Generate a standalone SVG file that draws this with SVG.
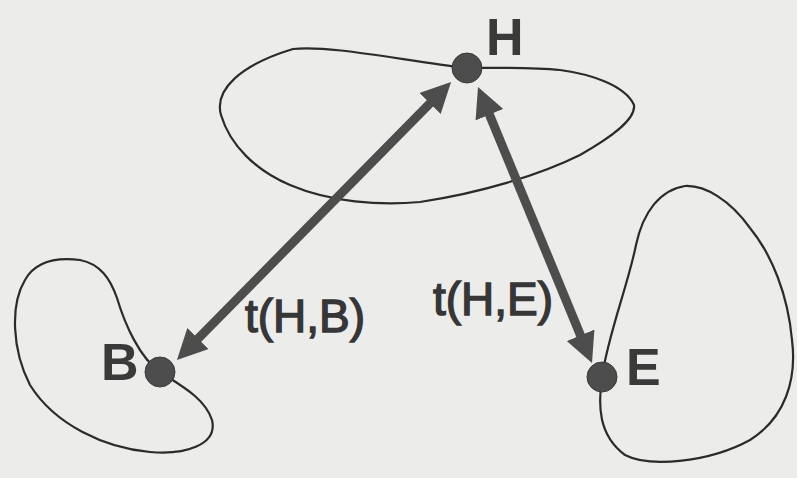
<svg xmlns="http://www.w3.org/2000/svg" width="797" height="478" viewBox="0 0 797 478">
<defs>
<style>
.blob{fill:none;stroke:#2b2b2b;stroke-width:2.2;stroke-linejoin:round}
.dot{fill:#4d4d4d;stroke:#3a3a3a;stroke-width:1}
.lbl{font-family:"Liberation Sans",Arial,sans-serif;font-weight:bold;font-size:52px;fill:#3a3a3a}
.tl{font-family:"Liberation Sans",Arial,sans-serif;font-size:46px;fill:#363636;stroke:#363636;stroke-width:1.4}
.arr{stroke:#4d4d4d;stroke-width:9;fill:none;marker-start:url(#ah);marker-end:url(#ah)}
</style>
<marker id="ah" markerUnits="userSpaceOnUse" markerWidth="30" markerHeight="30" viewBox="0 0 30 30" refX="8" refY="15" orient="auto-start-reverse">
<path d="M0,0 L30,15 L0,30 z" fill="#4d4d4d"/>
</marker>
</defs>
<rect width="797" height="478" fill="#ececea"/>
<g id="node-H">
<path class="blob" d="M467,68 C500,68 530,67 560,70 C590,74 625,85 634,105 C636,120 610,138 580,155 C540,175 480,193 420,202 C380,206 330,202 290,185 C255,170 230,145 221,115 C214,90 240,65 293,49 C330,45 400,60 467,68 Z"/>
<circle class="dot" cx="467" cy="68" r="15"/>
<text class="lbl" x="486" y="55">H</text>
</g>
<g id="node-B">
<path class="blob" d="M160,372 C180,385 205,398 212,420 C218,445 185,455 150,452 C105,448 55,425 30,385 C12,350 10,305 25,280 C35,262 55,257 80,260 C100,264 110,278 117,298 C125,325 140,358 160,372 Z"/>
<circle class="dot" cx="160" cy="372" r="15"/>
<text class="lbl" x="101" y="380">B</text>
</g>
<g id="node-E">
<path class="blob" d="M602,377 C598,405 598,435 625,455 C650,468 710,462 750,440 C785,418 797,380 792,340 C788,295 772,255 750,228 C730,200 705,185 685,186 C660,190 643,212 636,245 C628,285 608,335 602,377 Z"/>
<circle class="dot" cx="602" cy="377" r="15"/>
<text class="lbl" x="626" y="385">E</text>
</g>
<g id="connectors">
<line class="arr" x1="435.6" y1="97.7" x2="192.4" y2="344.3"/>
<line class="arr" x1="486.4" y1="107.3" x2="583.6" y2="342.7"/>
<text class="tl" x="245" y="332">t(H,B)</text>
<text class="tl" x="433" y="315">t(H,E)</text>
</g>
</svg>
